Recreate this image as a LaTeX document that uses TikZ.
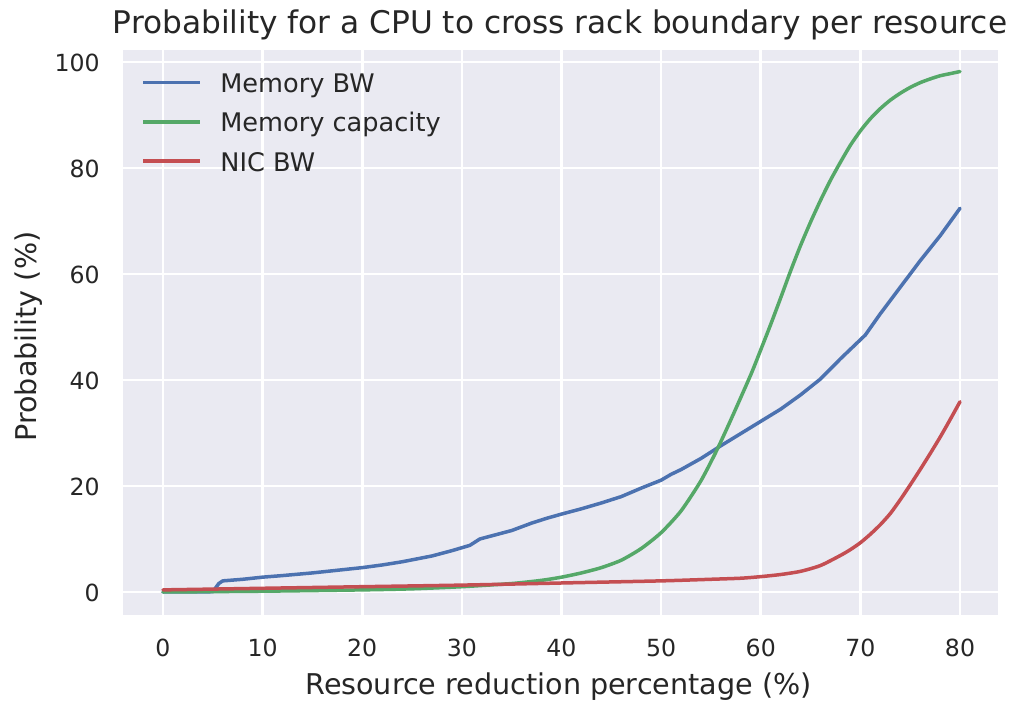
\documentclass[tikz,border=0pt]{standalone}
\usepackage{fontspec}
\setmainfont{DejaVu Sans}
\definecolor{bgpanel}{HTML}{EAEAF2}
\definecolor{sbblue}{HTML}{4C72B0}
\definecolor{sbgreen}{HTML}{55A868}
\definecolor{sbred}{HTML}{C44E52}
\definecolor{txt}{HTML}{262626}
\begin{document}
\begin{tikzpicture}[x=4.98125pt,y=2.65pt,
  grid/.style={white,line width=1.3pt},
  curve/.style={line width=1.75pt,line join=round,line cap=round},
  ticklab/.style={text=txt,font=\fontsize{11.8}{14}\selectfont,inner sep=0pt},
  axlab/.style={text=txt,font=\fontsize{14.3}{17}\selectfont,inner sep=0pt},
  titlab/.style={text=txt,font=\fontsize{15.6}{18}\selectfont,inner sep=0pt},
  leglab/.style={text=txt,font=\fontsize{12.8}{15}\selectfont,inner sep=0pt,anchor=base west}]
\useasboundingbox[fill=white] (-16.361,-20.377) rectangle (85.521,111.698);
% panel
\fill[bgpanel] (-4.015,-4.34) rectangle (83.85,102.3);
\foreach \gx in {0,10,...,80} \draw[grid] (\gx,-4.34) -- (\gx,102.3);
\foreach \gy in {0,20,...,100} \draw[grid] (-4.015,\gy) -- (83.85,\gy);
% tick labels
\foreach \gx in {0,10,...,80} \node[ticklab,anchor=base] (xt\gx) at (\gx,-12.26) {\gx};
\foreach \gy in {0,20,...,100} \node[ticklab,anchor=base east] (yt\gy) at (-6.32,\gy-1.83) {\gy};
% axis labels and title
\node[axlab,anchor=base] (xlabel) at (39.7,-19.25) {Resource reduction percentage (\%)};
\node[axlab,anchor=base,rotate=90] (ylabel) at (-12.65,48.2) {Probability (\%)};
\node[titlab,anchor=base] (title) at (39.85,105.4) {Probability for a CPU to cross rack boundary per resource};
% curves
\draw[curve,sbblue] plot coordinates {(0,0) (5,0.05) (5.6,1.6) (6,2.1) (8,2.4) (10,2.8) (12,3.1) (15,3.6) (18,4.2) (20,4.6) (22,5.1) (24,5.7) (27,6.8) (29,7.8) (30.8,8.8) (31.8,10) (33,10.6) (35,11.6) (37,13) (38.5,13.9) (40,14.7) (42,15.7) (44,16.8) (46,18) (48,19.6) (50,21.1) (51,22.2) (52,23.1) (54,25.2) (56,27.6) (58,29.9) (60,32.2) (62,34.5) (64,37.2) (66,40.2) (68,44) (70.5,48.5) (72,52.5) (74,57.5) (76,62.5) (78,67.2) (80,72.4)};
\draw[curve,sbgreen] plot[smooth,tension=0.4] coordinates {(0,0) (10,0.15) (20,0.4) (25,0.6) (30,1.0) (35,1.6) (38,2.2) (40,2.8) (42,3.6) (44,4.6) (46,6.0) (48,8.2) (50,11.2) (52,15.3) (54,21) (55.6,26.8) (57,32.5) (59,41) (60,45.7) (61,50.5) (62,55.5) (63,60.6) (64,65.4) (65,69.8) (66,73.9) (67,77.7) (68,81.1) (69,84.3) (70,87.0) (71,89.3) (72,91.2) (73,92.8) (74,94.1) (75,95.2) (76,96.1) (77,96.8) (78,97.4) (79,97.8) (80,98.2)};
\draw[curve,sbred] plot[smooth,tension=0.4] coordinates {(0,0.4) (10,0.7) (20,1.0) (30,1.3) (40,1.7) (50,2.1) (55,2.4) (58,2.6) (60,2.9) (62,3.3) (64,3.9) (66,5.0) (68,6.9) (69,8.0) (70,9.3) (71,10.9) (72,12.7) (73,14.8) (74,17.4) (75,20.2) (76,23.1) (77,26.1) (78,29.2) (79,32.5) (80,35.9)};
% legend
\coordinate (lb1) at (-2.0,96.1); \coordinate (lb2) at (3.7,96.1);
\coordinate (lg1) at (-2.0,88.7); \coordinate (lg2) at (3.7,88.7);
\coordinate (lr1) at (-2.0,81.3); \coordinate (lr2) at (3.7,81.3);
\draw[curve,sbblue,line cap=butt] (lb1) -- (lb2);
\draw[curve,sbgreen,line cap=butt] (lg1) -- (lg2);
\draw[curve,sbred,line cap=butt] (lr1) -- (lr2);
\node[leglab] (leg1) at (5.72,94.2) {Memory BW};
\node[leglab] (leg2) at (5.72,86.8) {Memory capacity};
\node[leglab] (leg3) at (5.72,79.4) {NIC BW};
\end{tikzpicture}
\end{document}
